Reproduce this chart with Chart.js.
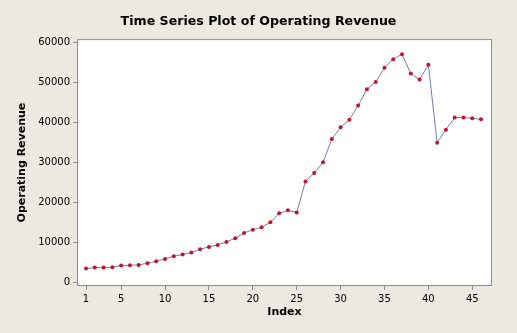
<!DOCTYPE html>
<html>
<head>
<meta charset="utf-8">
<title>Time Series Plot of Operating Revenue</title>
<script src="https://cdn.jsdelivr.net/npm/chart.js@4.4.0/dist/chart.umd.min.js"></script>
<style>
  html, body { margin: 0; padding: 0; background: #ECE9E0; }
  #wrap { width: 517px; height: 333px; }
</style>
</head>
<body>
<div id="wrap"><canvas id="chart" width="517" height="333"></canvas></div>
<script>
// index values (x) and operating revenue (y)
const index = [1, 2, 3, 4, 5, 6, 7, 8, 9, 10, 11, 12, 13, 14, 15, 16, 17, 18, 19, 20, 21, 22, 23,
    24, 25, 26, 27, 28, 29, 30, 31, 32, 33, 34, 35, 36, 37, 38, 39, 40, 41, 42, 43, 44, 45, 46];
const revenue = [3430, 3680, 3680, 3770, 4180, 4270, 4350, 4770, 5270, 5860, 6530, 6950, 7450,
    8290, 8870, 9370, 10120, 11050, 12380, 13140, 13810, 15030, 17280, 18040, 17500, 25280,
    27370, 30050, 35900, 38840, 40750, 44270, 48380, 50210, 53730, 55900, 57170, 52300,
    50800, 54480, 34980, 38240, 41260, 41260, 41090, 40840];
const xTicks = [1, 5, 10, 15, 20, 25, 30, 35, 40, 45];
const yTicks = [0, 10000, 20000, 30000, 40000, 50000, 60000];

const axisGray = '#8c8c8c';
const tickFont = { family: 'DejaVu Sans', size: 10 };
const titleFont = { family: 'DejaVu Sans', size: 11, weight: 'bold' };

//white plot area with a grey frame
const plotFrame = {
    id: 'plotFrame',
    beforeDraw(c) {
        const a = c.chartArea;
        c.ctx.save();
        c.ctx.fillStyle = '#ffffff';
        c.ctx.fillRect(a.left, a.top, a.width, a.height);
        c.ctx.restore();
    },
    afterDraw(c) {
        const a = c.chartArea;
        c.ctx.save();
        c.ctx.strokeStyle = axisGray;
        c.ctx.lineWidth = 1;
        c.ctx.strokeRect(a.left + 0.5, a.top + 0.5, a.width - 1, a.height - 1);
        c.ctx.restore();
    }
};

new Chart(document.getElementById('chart'), {
    type: 'line',
    data: {
        datasets: [{
            data: index.map((x, i) => ({ x: x, y: revenue[i] })),
            borderColor: '#6f7fae',
            borderWidth: 1,
            pointBackgroundColor: '#c8102e',
            pointBorderColor: '#c8102e',
            pointRadius: 2,
            pointBorderWidth: 0,
            tension: 0,
            fill: false
        }]
    },
    options: {
        responsive: false,
        animation: false,
        layout: { padding: 0 },
        plugins: {
            legend: { display: false },
            tooltip: { enabled: false },
            title: {
                display: true,
                text: 'Time Series Plot of Operating Revenue',
                color: '#000',
                font: { family: 'DejaVu Sans', size: 12.6, weight: 'bold' },
                padding: { top: 14, bottom: 10 }
            }
        },
        scales: {
            x: {
                type: 'linear',
                min: -0.03,
                max: 47.25,
                afterBuildTicks: s => { s.ticks = xTicks.map(v => ({ value: v })); },
                afterFit: s => { s.height = 47; },
                grid: { display: true, drawOnChartArea: false, drawTicks: true, tickLength: 4, color: axisGray },
                border: { display: false },
                ticks: { font: tickFont, color: '#000', padding: 3, maxRotation: 0, autoSkip: false },
                title: { display: true, text: 'Index', color: '#000', font: titleFont, padding: { top: 0, bottom: 14 } }
            },
            y: {
                min: -930,
                max: 60930,
                afterBuildTicks: s => { s.ticks = yTicks.map(v => ({ value: v })); },
                afterFit: s => { s.width = 77; },
                grid: { display: true, drawOnChartArea: false, drawTicks: true, tickLength: 4, color: axisGray },
                border: { display: false },
                ticks: { font: tickFont, color: '#000', padding: 3, callback: v => String(v) },
                title: { display: true, text: 'Operating Revenue', color: '#000', font: titleFont, padding: { top: 16, bottom: 0 } }
            },
            // empty right-hand axis, only keeps the margin on the right
            yRight: {
                position: 'right',
                afterFit: s => { s.width = 25; },
                grid: { display: false },
                border: { display: false },
                ticks: { display: false }
            }
        }
    },
    plugins: [plotFrame]
});
</script>
</body>
</html>
